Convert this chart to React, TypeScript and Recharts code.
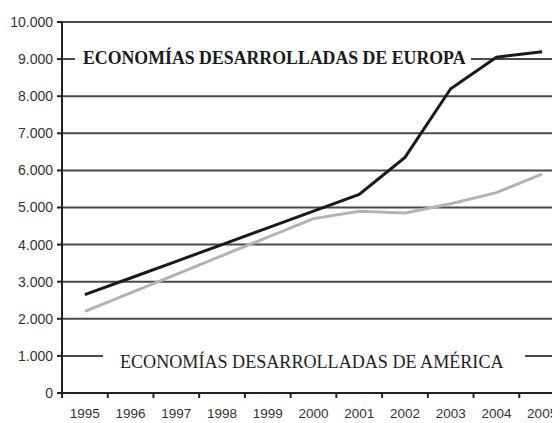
import React from "react";
import { LineChart, Line, XAxis, YAxis, CartesianGrid } from "recharts";

const YEARS = [1995, 1996, 1997, 1998, 1999, 2000, 2001, 2002, 2003, 2004, 2005];
const EUROPA = [2650, 3100, 3550, 4000, 4450, 4900, 5350, 6350, 8200, 9050, 9200];
const AMERICA = [2200, 2700, 3200, 3700, 4200, 4700, 4900, 4850, 5100, 5400, 5900];
const Y_TICKS = [0, 1000, 2000, 3000, 4000, 5000, 6000, 7000, 8000, 9000, 10000];

const data = YEARS.map((year, i) => ({ year, europa: EUROPA[i], america: AMERICA[i] }));

const W = 560;
const H = 423;
const LEFT = 62;
const BAND = (565 - LEFT) / YEARS.length;

const fmt = (v: number) => String(v).replace(/\B(?=(\d{3})+(?!\d))/g, ".");

function YearTick(props: any) {
  const { x, payload } = props;
  const axisY = H - 30;
  return (
    <g>
      <line x1={x - BAND / 2} x2={x - BAND / 2} y1={axisY} y2={axisY + 5} stroke="#222" strokeWidth={2} />
      <text x={x} y={axisY + 15} dy="0.71em" textAnchor="middle" fill="#333"
        fontFamily="'Liberation Sans', Arial, sans-serif" fontSize={13.5}>
        {payload.value}
      </text>
    </g>
  );
}

export default function App() {
  return (
    <div style={{ position: "relative", margin: "-8px 0 0 -8px", width: 560, height: 423, overflow: "hidden", background: "#fff" }}>
      <LineChart width={W} height={H} data={data} margin={{ top: 22, right: 0, bottom: 0, left: 0 }}>
        <CartesianGrid vertical={false} stroke="#4a4a4a" strokeWidth={2} />
        <XAxis dataKey="year" type="number" domain={[1994.5, 1994.5 + (W - LEFT) / BAND]} ticks={YEARS}
          height={30} axisLine={{ stroke: "#222", strokeWidth: 2 }} tickLine={false}
          tick={<YearTick />} interval={0} allowDataOverflow />
        <YAxis domain={[0, 10000]} ticks={Y_TICKS} width={LEFT} tickFormatter={fmt}
          axisLine={{ stroke: "#222", strokeWidth: 2 }} tickLine={{ stroke: "#222", strokeWidth: 2 }}
          tickSize={5} tickMargin={4} interval={0}
          tick={{ fill: "#333", fontSize: 14, fontFamily: "'Liberation Sans', Arial, sans-serif" }} />
        <Line dataKey="america" stroke="#b3b3b3" strokeWidth={3} dot={false} isAnimationActive={false} />
        <Line dataKey="europa" stroke="#1a1a1a" strokeWidth={3} dot={false} isAnimationActive={false} />
      </LineChart>
      <div style={{ position: "absolute", left: 75, top: 50, paddingLeft: 8, paddingRight: 5, background: "#fff",
        fontFamily: "'Liberation Serif', 'Times New Roman', serif", fontWeight: "bold", fontSize: 17.8, lineHeight: 1,
        color: "#1a1a1a", whiteSpace: "nowrap" }}>
        ECONOMÍAS DESARROLLADAS DE EUROPA
      </div>
      <div style={{ position: "absolute", left: 103, top: 353, paddingLeft: 17, paddingRight: 21, background: "#fff",
        fontFamily: "'Liberation Serif', 'Times New Roman', serif", fontSize: 18.1, lineHeight: 1,
        color: "#222", whiteSpace: "nowrap" }}>
        ECONOMÍAS DESARROLLADAS DE AMÉRICA
      </div>
    </div>
  );
}
